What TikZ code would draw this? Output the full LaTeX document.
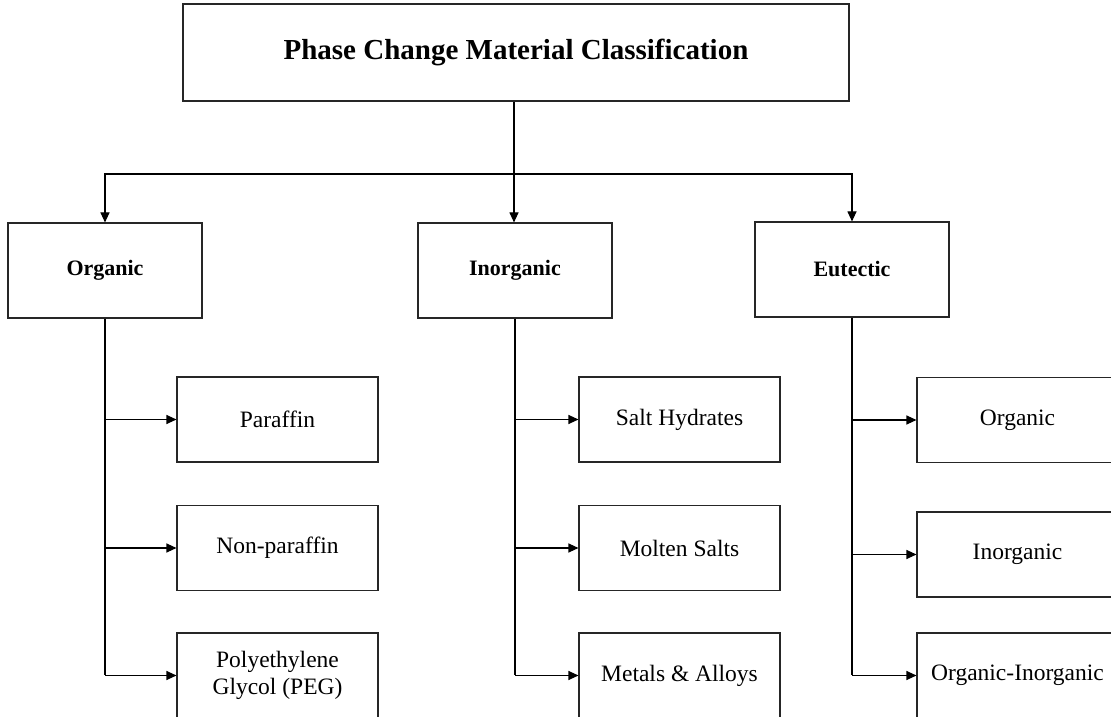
\documentclass[tikz,border=0pt]{standalone}
\usepackage{fontspec}
\setmainfont{Liberation Serif}
\usetikzlibrary{arrows.meta}
\tikzset{
  box/.style={draw=black!85, line width=1.1pt, rectangle, inner sep=0pt, align=center},
  titlebox/.style={box, minimum width=666pt, minimum height=97pt, font=\fontsize{29}{34}\selectfont\bfseries},
  catbox/.style={box, minimum width=194pt, minimum height=95pt, font=\fontsize{22}{26}\selectfont\bfseries},
  leafbox/.style={box, minimum width=201pt, minimum height=85pt, font=\fontsize{23.5}{27}\selectfont},
  link/.style={draw=black, line width=1.1pt},
  arr/.style={link, -{Triangle[length=10pt,width=9pt]}}
}
\begin{document}
\begin{tikzpicture}[x=1pt,y=1pt]
\useasboundingbox (0,0) rectangle (1111,717);
\clip (0,0) rectangle (1111,717);
% top
\node[titlebox] (top) at (516,664.5) {Phase Change Material Classification};
% categories
\node[catbox] (org) at (105,446.5) {Organic};
\node[catbox] (inorg) at (515,446.5) {Inorganic};
\node[catbox] (eut) at (852,447.5) {Eutectic};
% leaves organic
\node[leafbox] (o1) at (277.5,297.5) {Paraffin};
\node[leafbox] (o2) at (277.5,169) {Non-paraffin};
\node[leafbox] (o3) at (277.5,41.5) {Polyethylene\\Glycol (PEG)};
% leaves inorganic
\node[leafbox] (i1) at (679.5,297.5) {Salt Hydrates};
\node[leafbox] (i2) at (679.5,169) {Molten Salts};
\node[leafbox] (i3) at (679.5,41.5) {Metals \& Alloys};
% leaves eutectic
\node[leafbox] (e1) at (1017.5,297) {Organic};
\node[leafbox] (e2) at (1017.5,162.5) {Inorganic};
\node[leafbox] (e3) at (1017.5,41.5) {Organic-Inorganic};
% bus
\coordinate (bus) at (514,543);
\draw[link] (top.south -| bus) -- (bus);
\draw[arr] (bus) -- (bus |- inorg.north);
\draw[arr] (bus) -| (org.north);
\draw[arr] (bus) -| (eut.north);
% trunks
\draw[link] (org.south) -- (org.south |- o3.west);
\draw[arr] (org.south |- o1.west) -- (o1.west);
\draw[arr] (org.south |- o2.west) -- (o2.west);
\draw[arr] (org.south |- o3.west) -- (o3.west);
\draw[link] (inorg.south) -- (inorg.south |- i3.west);
\draw[arr] (inorg.south |- i1.west) -- (i1.west);
\draw[arr] (inorg.south |- i2.west) -- (i2.west);
\draw[arr] (inorg.south |- i3.west) -- (i3.west);
\draw[link] (eut.south) -- (eut.south |- e3.west);
\draw[arr] (eut.south |- e1.west) -- (e1.west);
\draw[arr] (eut.south |- e2.west) -- (e2.west);
\draw[arr] (eut.south |- e3.west) -- (e3.west);
\end{tikzpicture}
\end{document}
